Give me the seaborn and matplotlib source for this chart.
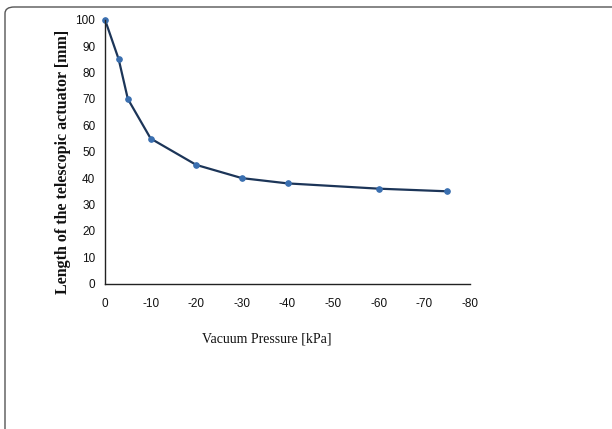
import matplotlib
matplotlib.use("Agg")
import matplotlib.pyplot as plt
from matplotlib.patches import FancyBboxPatch
import pandas as pd
import seaborn as sns

# data
pressure = [0, -3, -5, -10, -20, -30, -40, -60, -75]
length = [100, 85, 70, 55, 45, 40, 38, 36, 35]
xticks = [0, -10, -20, -30, -40, -50, -60, -70, -80]
yticks = [0, 10, 20, 30, 40, 50, 60, 70, 80, 90, 100]

df = pd.DataFrame({"Vacuum Pressure [kPa]": pressure,
                   "Length of the telescopic actuator [mm]": length})

sns.set_style("white")
plt.rcParams['font.family'] = ['Liberation Sans', 'DejaVu Sans']

fig = plt.figure(figsize=(6.12, 4.29), dpi=100)
ax = fig.add_axes([0.1716, 0.3387, 0.5964, 0.6153])

sns.lineplot(data=df, x="Vacuum Pressure [kPa]", y="Length of the telescopic actuator [mm]",
             ax=ax, color="#1c3558", lw=1.6, marker="o", markersize=4,
             markerfacecolor="#3a6fb0", markeredgecolor="#3a6fb0", clip_on=False)

ax.set_xlim(0, -80)
ax.set_ylim(0, 100)
ax.set_xticks(xticks)
ax.set_yticks(yticks)
ax.set_xticklabels([str(t) for t in xticks])

sns.despine(ax=ax)
for s in ["left", "bottom"]:
    ax.spines[s].set_color("#222222")
    ax.spines[s].set_linewidth(1.0)

ax.tick_params(axis="x", direction="in", length=4, width=1, color="#222222",
               pad=10, labelsize=8.5, labelcolor="#111111")
ax.tick_params(axis="y", length=0, pad=7, labelsize=8.5, labelcolor="#111111")

ax.set_xlabel("Vacuum Pressure [kPa]", family="Liberation Serif", fontsize=10, color="#111111")
ax.set_ylabel("Length of the telescopic actuator [mm]", family="Liberation Serif",
              fontweight="bold", fontsize=11.5, color="#111111")
ax.xaxis.set_label_coords(0.444, -0.183)
ax.yaxis.set_label_coords(-0.093, 0.46)

# rounded frame around the panel, cut by the image edges
frame = FancyBboxPatch((5 / 612, -0.2), 1.2, 0.2 + (1 - 7 / 429),
                       boxstyle="round,pad=0,rounding_size=0.015",
                       transform=fig.transFigure, fill=False,
                       edgecolor="#555555", lw=1.0, clip_on=False)
fig.patches.append(frame)

fig.savefig("out.png", dpi=100)
